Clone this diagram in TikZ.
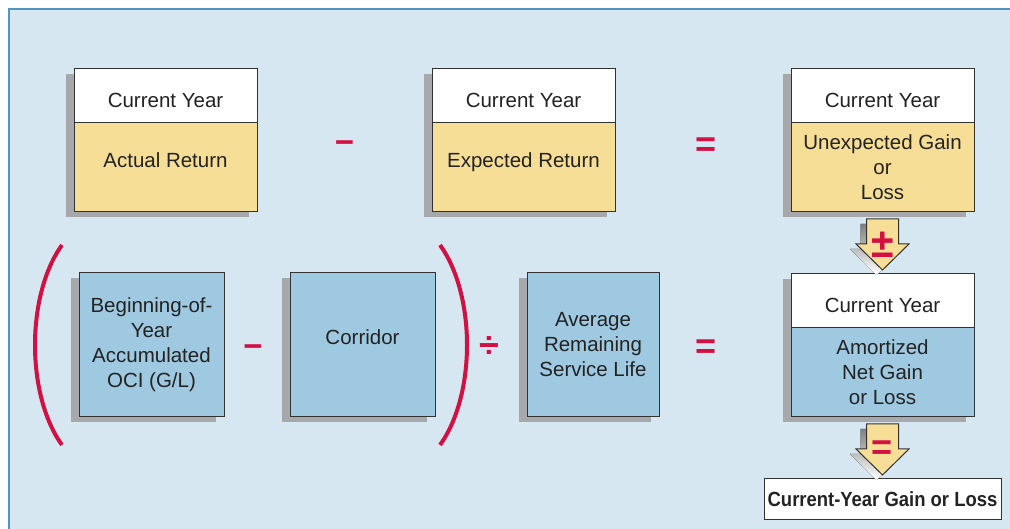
\documentclass[tikz,border=0pt]{standalone}
\usepackage{fontspec}
\setmainfont{Liberation Sans}
\newfontfamily\condfont[FakeStretch=0.9]{Liberation Sans}
\usetikzlibrary{positioning, shadows, calc}
\definecolor{panel}{RGB}{214,231,241}
\definecolor{panelline}{RGB}{80,150,195}
\definecolor{gold}{RGB}{246,222,150}
\definecolor{sky}{RGB}{158,201,225}
\definecolor{shade}{RGB}{166,168,171}
\definecolor{edge}{RGB}{50,50,50}
\definecolor{ink}{RGB}{35,35,35}
\definecolor{signred}{RGB}{210,16,66}

\begin{document}
\begin{tikzpicture}[
  x=1pt, y=1pt,
  boxshadow/.style={drop shadow={shadow xshift=-8pt, shadow yshift=-5.5pt,
                    fill=shade, opacity=1}},
  plainbox/.style={rectangle, draw=edge, line width=1pt, text=ink,
                   inner sep=0pt, outer sep=0pt, align=center,
                   font=\fontsize{20.5}{25}\selectfont},
  headbox/.style={plainbox, boxshadow, fill=white, minimum width=183pt,
                  minimum height=54pt, text height=24pt, text depth=0pt},
  bodybox/.style={plainbox, boxshadow, fill=gold, minimum width=183pt,
                  minimum height=89pt},
  bluebox/.style={plainbox, boxshadow, fill=sky, minimum height=144pt},
  oneline/.style={text height=10pt, text depth=10pt},
  finalbox/.style={plainbox, fill=white, minimum width=237pt,
                   minimum height=41pt, font=\condfont\bfseries\fontsize{20.5}{24}\selectfont},
  sign/.style={text=signred, inner sep=0pt, font=\bfseries\fontsize{33}{33}\selectfont},
  bigsign/.style={sign, font=\bfseries\fontsize{36}{36}\selectfont},
  paren/.style={draw=signred, line width=4pt},
  blockarrow/.style={draw=edge, line width=1pt, fill=gold, line join=miter},
]
  \useasboundingbox (0,0) rectangle (1010,529);
  % panel
  \draw[panelline, fill=panel, line width=1.5pt] (9,-5) rectangle (1020,520);

  % top row
  \node[headbox] (acthead) at (165.5,433) {Current Year};
  \node[bodybox, oneline, below=0pt of acthead] (actbody) {Actual Return};
  \node[headbox, right=175pt of acthead] (exphead) {Current Year};
  \node[bodybox, oneline, below=0pt of exphead] (expbody) {Expected Return};
  \node[headbox, right=176pt of exphead] (unexphead) {Current Year};
  \node[bodybox, below=0pt of unexphead] (unexpbody) {Unexpected Gain\\or\\Loss};

  % right column
  \node[headbox, below=62pt of unexpbody] (amorthead) {Current Year};
  \node[bodybox, fill=sky, below=0pt of amorthead] (amortbody) {Amortized\\Net Gain\\or Loss};
  \node[finalbox, below=62pt of amortbody] (final) {Current-Year Gain or Loss};

  % second row
  \node[bluebox, minimum width=145pt] (boy) at (151.5,184)
    {Beginning-of-\\Year\\Accumulated\\OCI (G/L)};
  \node[bluebox, oneline, minimum width=145pt, right=66pt of boy] (corridor) {Corridor};
  \node[bluebox, minimum width=132pt, right=92pt of corridor] (avg)
    {Average\\Remaining\\Service Life};

  % operators
  \node[sign] (minusA) at ($(acthead.north east)!0.5!(expbody.south west)+(0,-7)$) {−};
  \node[bigsign] (equalA) at ($(exphead.north east)!0.5!(unexpbody.south west)+(3,-7)$) {=};
  \node[sign] (minusB) at ($(boy.east)!0.5!(corridor.west)+(-4,-6)$) {−};
  \node[bigsign] (divide) at ($(corridor.east)+(54,-2)$) {÷};
  \node[bigsign] (equalB) at ($(equalA |- avg)+(0,-4)$) {=};

  % brackets
  \draw[paren] (62,284) .. controls (26,234) and (26,134) .. (62,84);
  \draw[paren] (440,284) .. controls (476,234) and (476,134) .. (440,84);

  % block arrows
  \foreach \src/\sym/\sz/\nm in {unexpbody/{±}/41/pmsign, amortbody/{=}/36/eqsign} {
    \fill[shade, shift={($(\src.south)+(-6,-5)$)}]
      (-16,-7) -- (16,-7) -- (16,-32) -- (26.5,-32) -- (0,-58)
      -- (-26.5,-32) -- (-16,-32) -- cycle;
    \draw[blockarrow, shift={(\src.south)}]
      (-16,-7) -- (16,-7) -- (16,-32) -- (26.5,-32) -- (0,-58)
      -- (-26.5,-32) -- (-16,-32) -- cycle;
    \node[sign, font=\bfseries\fontsize{\sz}{\sz}\selectfont] (\nm)
      at ($(\src.south)+(0,-33)$) {\sym};
  }
\end{tikzpicture}
\end{document}
